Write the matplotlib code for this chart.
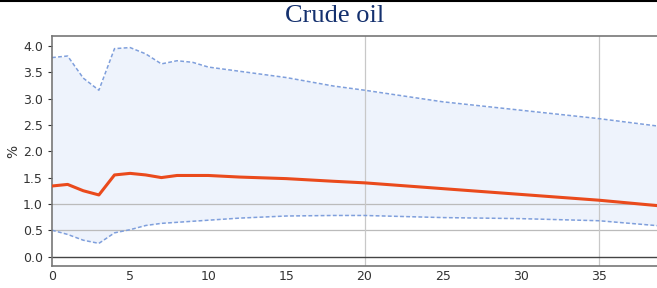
import matplotlib
matplotlib.use("Agg")
import matplotlib.pyplot as plt
from matplotlib.lines import Line2D

horizon = [0, 1, 2, 3, 4, 5, 6, 7, 8, 9, 10, 12, 15, 18, 20, 25, 30, 35, 39]
median = [1.34, 1.37, 1.25, 1.17, 1.55, 1.58, 1.55, 1.50, 1.54, 1.54, 1.54, 1.51, 1.48, 1.43, 1.40, 1.29, 1.18, 1.07, 0.96]
upper = [3.78, 3.81, 3.39, 3.16, 3.95, 3.97, 3.85, 3.66, 3.72, 3.69, 3.60, 3.52, 3.40, 3.24, 3.16, 2.94, 2.78, 2.62, 2.47]
lower = [0.50, 0.42, 0.31, 0.25, 0.45, 0.51, 0.59, 0.63, 0.65, 0.67, 0.69, 0.73, 0.77, 0.78, 0.78, 0.74, 0.72, 0.68, 0.58]
yticks = [0.0, 0.5, 1.0, 1.5, 2.0, 2.5, 3.0, 3.5, 4.0]
xticks = [0, 5, 10, 15, 20, 25, 30, 35]

fig = plt.figure(figsize=(6.57, 2.88), dpi=100)
ax = fig.add_axes([52/657, 22/288, 1.002 - 52/657, 230/288])

ax.fill_between(horizon, lower, upper, color="#eef3fc", zorder=1, linewidth=0)
for v in (0.5, 1.0):
    ax.axhline(v, color="#bbbbbb", lw=0.9, zorder=1.5)
for v in (20, 35):
    ax.axvline(v, color="#c8c8c8", lw=0.9, zorder=1.5)
ax.axhline(0.0, color="#444444", lw=1.0, zorder=1.5)
ax.plot(horizon, upper, color="#7f9fdc", lw=1.1, ls=(0, (2.5, 1.5)), zorder=2)
ax.plot(horizon, lower, color="#7f9fdc", lw=1.1, ls=(0, (2.5, 1.5)), zorder=2)
ax.plot(horizon, median, color="#ea4a1c", lw=2.2, zorder=3)

ax.set_xlim(0, 38.8)
ax.set_ylim(-0.18, 4.19)
ax.set_yticks(yticks)
ax.set_yticklabels([f"{v:.1f}" for v in yticks])
ax.set_xticks(xticks)
ax.tick_params(axis="both", labelsize=9, colors="#333333", length=3, width=0.8)
ax.tick_params(axis="x", length=0, pad=3)
for lab in ax.get_xticklabels() + ax.get_yticklabels():
    lab.set_color("#333333")
for s in ("top", "left", "bottom"):
    ax.spines[s].set_color("#777777")
    ax.spines[s].set_linewidth(1.2)
ax.spines["right"].set_visible(False)
ax.set_ylabel("%", fontsize=10, color="#333333", labelpad=2)

fig.text(334.5/657, 0.944, "Crude oil", ha="center", va="center",
         fontsize=19, color="#14306e", family="Liberation Serif")
fig.add_artist(Line2D([0, 1], [1 - 0.8/288, 1 - 0.8/288], color="black", lw=1.5,
                      transform=fig.transFigure))

fig.savefig("out.png", dpi=100)
